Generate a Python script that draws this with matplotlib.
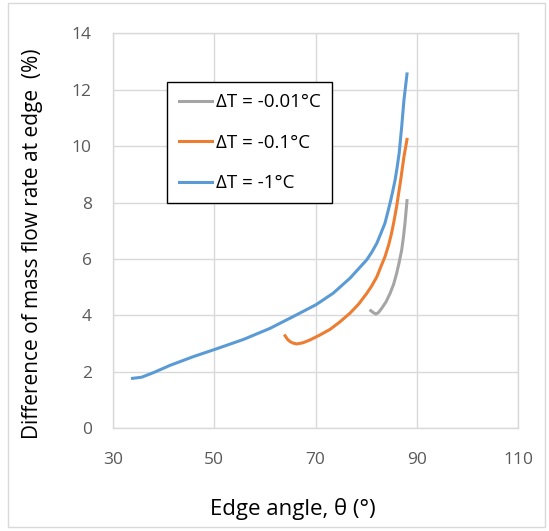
import matplotlib
matplotlib.use("Agg")
import matplotlib.pyplot as plt
from matplotlib.patches import Rectangle

# Data
blue_x = [33.9, 35.7, 38.0, 41.3, 45.9, 50.2, 55.8, 61.0, 65.6, 70.1, 73.5, 76.8, 80.1,
          81.1, 82.1, 82.9, 83.7, 84.2, 84.7, 85.2, 85.7, 86.1, 86.5, 87.0, 87.45, 88.05]
blue_y = [1.77, 1.81, 1.97, 2.23, 2.54, 2.80, 3.15, 3.54, 3.96, 4.38, 4.79, 5.32, 5.97,
          6.24, 6.56, 6.91, 7.27, 7.62, 7.98, 8.37, 8.80, 9.25, 9.75, 10.69, 11.64, 12.56]

orange_x = [64.0, 64.5, 65.0, 65.6, 66.3, 67.5, 68.9, 70.9, 72.9, 74.8, 76.8, 78.5, 80.1,
            81.1, 82.1, 82.9, 83.7, 84.4, 85.0, 85.5, 86.0, 86.8, 87.45, 88.05]
orange_y = [3.28, 3.15, 3.07, 3.02, 2.99, 3.03, 3.13, 3.31, 3.51, 3.77, 4.08, 4.40, 4.78,
            5.05, 5.37, 5.73, 6.08, 6.48, 6.91, 7.36, 7.86, 8.80, 9.63, 10.24]

gray_x = [80.9, 81.4, 81.9, 82.4, 83.05, 83.9, 84.7, 85.4, 86.0, 86.5, 87.0, 87.35, 87.65, 88.05]
gray_y = [4.17, 4.10, 4.05, 4.10, 4.25, 4.48, 4.78, 5.10, 5.49, 5.88, 6.32, 6.78, 7.27, 8.07]

labels = ["ΔT = -0.01°C", "ΔT = -0.1°C", "ΔT = -1°C"]
x_ticks = [30, 50, 70, 90, 110]
y_ticks = [0, 2, 4, 6, 8, 10, 12, 14]

plt.rcParams['font.family'] = ['Open Sans', 'DejaVu Sans']

W, H = 549, 531
fig = plt.figure(figsize=(W / 100, H / 100), dpi=100)
ax = fig.add_axes([112.7 / W, 1 - 428.3 / H, (518.3 - 112.7) / W, (428.3 - 33.3) / H])

ax.plot(gray_x, gray_y, color="#A5A5A5", lw=2.2, label=labels[0], solid_joinstyle="round")
ax.plot(orange_x, orange_y, color="#ED7D31", lw=2.2, label=labels[1], solid_joinstyle="round")
ax.plot(blue_x, blue_y, color="#5B9BD5", lw=2.2, label=labels[2], solid_joinstyle="round")

ax.set_xlim(30, 110)
ax.set_ylim(0, 14)
ax.set_xticks(x_ticks)
ax.set_yticks(y_ticks)
ax.grid(True, color="#D9D9D9", lw=1.0)
ax.set_axisbelow(True)
for s in ax.spines.values():
    s.set_color("#D9D9D9")
    s.set_linewidth(1.0)
ax.tick_params(length=0, labelsize=12.5, labelcolor="#595959")
ax.tick_params(axis='y', pad=15)
ax.tick_params(axis='x', pad=17)

ax.set_xlabel("Edge angle, θ (°)", fontsize=16)
ax.set_ylabel("Difference of mass flow rate at edge  (%)", fontsize=15)
ax.xaxis.set_label_coords(0.444, -0.176)
ax.yaxis.set_label_coords(-0.172, 0.467)

leg = ax.legend(loc="upper left", bbox_to_anchor=(0.135, 0.877), fontsize=13.5,
                frameon=True, fancybox=False, edgecolor="black", framealpha=1,
                handlelength=1.8, handletextpad=0.2, labelspacing=1.2,
                borderpad=0.6, borderaxespad=0)
leg.get_frame().set_linewidth(1.0)

fig.patches.append(Rectangle((8 / W, 1 - 527 / H), (545 - 8) / W, (527 - 3) / H,
                             transform=fig.transFigure, fill=False,
                             edgecolor="#D9D9D9", lw=1.0))

fig.savefig("out.png", dpi=100)
